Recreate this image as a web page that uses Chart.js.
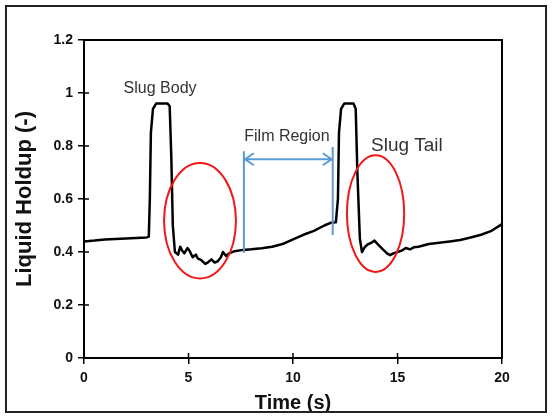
<!DOCTYPE html>
<html>
<head>
<meta charset="utf-8">
<script src="https://cdn.jsdelivr.net/npm/chart.js@4"></script>
<style>
  html, body { margin: 0; padding: 0; background: #fff; }
  canvas { display: block; }
</style>
</head>
<body>
<canvas id="holdupChart" width="553" height="416"></canvas>
<script>
// time (s) and liquid holdup (-)
const timeS = [0, 0.5, 1, 1.5, 2, 2.5, 3.0, 3.1, 3.15, 3.2, 3.3, 3.45, 4.0, 4.1, 4.18, 4.25, 4.35,
  4.5, 4.6, 4.7, 4.8, 4.95, 5.05, 5.2, 5.35, 5.45, 5.6, 5.8, 5.95, 6.1, 6.25, 6.4, 6.55, 6.65,
  6.8, 6.95, 7.2, 7.6, 8.0, 8.5, 9.0, 9.5, 10.0, 10.5, 11.0, 11.5, 11.8, 12.05, 12.15, 12.2,
  12.3, 12.45, 12.9, 13.0, 13.08, 13.2, 13.3, 13.45, 13.6, 13.75, 13.9, 14.05, 14.3, 14.5,
  14.65, 14.8, 15.0, 15.2, 15.4, 15.6, 15.8, 16.0, 16.5, 17.0, 17.5, 18.0, 18.5, 19.0, 19.5, 20.0];
const holdup = [0.44, 0.443, 0.447, 0.449, 0.451, 0.453, 0.455, 0.458, 0.6, 0.85, 0.94, 0.96, 0.96,
  0.95, 0.75, 0.5, 0.40, 0.39, 0.42, 0.405, 0.395, 0.415, 0.405, 0.38, 0.39, 0.375, 0.37, 0.355,
  0.362, 0.372, 0.36, 0.365, 0.38, 0.40, 0.385, 0.395, 0.403, 0.408, 0.41, 0.414, 0.42, 0.43,
  0.448, 0.465, 0.48, 0.5, 0.51, 0.512, 0.6, 0.85, 0.94, 0.96, 0.96, 0.94, 0.7, 0.45, 0.40, 0.42,
  0.43, 0.435, 0.443, 0.43, 0.41, 0.395, 0.388, 0.395, 0.40, 0.405, 0.415, 0.41, 0.418, 0.42,
  0.43, 0.435, 0.44, 0.445, 0.455, 0.465, 0.48, 0.505];

// annotations, in data units
const ellipses = [
  { t: 5.55, v: 0.518, rt: 1.72, rv: 0.218 },
  { t: 13.95, v: 0.545, rt: 1.37, rv: 0.22 }
];
const filmStart = 7.65, filmEnd = 11.9, filmArrowY = 0.75;
const filmLines = [[7.65, 0.78, 0.396], [11.9, 0.796, 0.464]];
const labels = [
  { text: 'Slug Body', t: 3.64, v: 1.015, size: 16 },
  { text: 'Film Region', t: 9.71, v: 0.834, size: 16 },
  { text: 'Slug Tail', t: 15.45, v: 0.80, size: 19 }
];

const points = timeS.map((t, i) => ({ x: t, y: holdup[i] }));

const decorations = {
  id: 'decorations',
  beforeDatasetsDraw(chart) {
    const { ctx, chartArea: a, scales: { x, y } } = chart;
    ctx.save();
    ctx.strokeStyle = '#000';
    ctx.lineWidth = 2;
    ctx.strokeRect(a.left, a.top, a.right - a.left, a.bottom - a.top);
    // inner half of the crossing ticks
    ctx.lineWidth = 1.5;
    ctx.beginPath();
    y.ticks.forEach(tk => {
      const py = y.getPixelForValue(tk.value);
      ctx.moveTo(a.left, py); ctx.lineTo(a.left + 5, py);
    });
    x.ticks.forEach(tk => {
      const px = x.getPixelForValue(tk.value);
      ctx.moveTo(px, a.bottom); ctx.lineTo(px, a.bottom - 5);
    });
    ctx.stroke();
    ctx.restore();
  },
  afterDatasetsDraw(chart) {
    const { ctx, scales: { x, y } } = chart;
    ctx.save();
    // red ellipses
    ctx.strokeStyle = '#f01818';
    ctx.lineWidth = 2;
    ellipses.forEach(e => {
      const cx = x.getPixelForValue(e.t), cy = y.getPixelForValue(e.v);
      const rx = x.getPixelForValue(e.t + e.rt) - cx;
      const ry = cy - y.getPixelForValue(e.v + e.rv);
      ctx.beginPath();
      ctx.ellipse(cx, cy, rx, ry, 0, 0, Math.PI * 2);
      ctx.stroke();
    });
    // blue film region marker
    ctx.strokeStyle = '#5b9bd5';
    ctx.lineWidth = 2;
    ctx.beginPath();
    filmLines.forEach(([t, v1, v2]) => {
      const px = x.getPixelForValue(t);
      ctx.moveTo(px, y.getPixelForValue(v1));
      ctx.lineTo(px, y.getPixelForValue(v2));
    });
    const x1 = x.getPixelForValue(filmStart), x2 = x.getPixelForValue(filmEnd);
    const ay = y.getPixelForValue(filmArrowY);
    ctx.moveTo(x1 + 1, ay); ctx.lineTo(x2 - 1, ay);
    ctx.moveTo(x1 + 10, ay - 6); ctx.lineTo(x1 + 1, ay); ctx.lineTo(x1 + 10, ay + 6);
    ctx.moveTo(x2 - 10, ay - 6); ctx.lineTo(x2 - 1, ay); ctx.lineTo(x2 - 10, ay + 6);
    ctx.stroke();
    // text labels
    ctx.fillStyle = '#333';
    ctx.textAlign = 'center';
    ctx.textBaseline = 'middle';
    labels.forEach(l => {
      ctx.font = l.size + 'px "Liberation Sans", Arial, sans-serif';
      ctx.fillText(l.text, x.getPixelForValue(l.t), y.getPixelForValue(l.v));
    });
    ctx.restore();
  },
  afterDraw(chart) {
    const { ctx } = chart;
    ctx.save();
    ctx.strokeStyle = '#222';
    ctx.lineWidth = 2;
    ctx.strokeRect(6, 6, 540, 406);
    ctx.restore();
  }
};

const tickFont = { family: '"Liberation Sans", Arial, sans-serif', size: 14, weight: 'bold' };

new Chart(document.getElementById('holdupChart'), {
  type: 'line',
  data: {
    datasets: [{
      data: points,
      borderColor: '#000',
      borderWidth: 2.5,
      pointRadius: 0,
      tension: 0,
      borderJoinStyle: 'round'
    }]
  },
  options: {
    responsive: false,
    animation: false,
    devicePixelRatio: 1,
    layout: { padding: { top: 40, right: 51, left: 0, bottom: 0 } },
    plugins: { legend: { display: false }, tooltip: { enabled: false } },
    scales: {
      x: {
        type: 'linear',
        min: 0, max: 20,
        afterFit(scale) { scale.height = 58; },
        ticks: { stepSize: 5, color: '#111', font: tickFont, padding: 6, maxRotation: 0 },
        grid: { drawOnChartArea: false, tickLength: 6, color: '#000', lineWidth: 1.5 },
        border: { color: '#000', width: 2 },
        title: {
          display: true, text: 'Time (s)', color: '#111',
          font: { family: '"Liberation Sans", Arial, sans-serif', size: 20, weight: 'bold' },
          padding: { top: 0, bottom: 1 }
        }
      },
      y: {
        min: 0, max: 1.2,
        afterFit(scale) { scale.width = 84; },
        ticks: {
          stepSize: 0.2, color: '#111', font: tickFont, padding: 5,
          callback: v => String(+v.toFixed(1))
        },
        grid: { drawOnChartArea: false, tickLength: 6, color: '#000', lineWidth: 1.5 },
        border: { color: '#000', width: 2 },
        title: {
          display: true, text: 'Liquid Holdup (-)', color: '#111',
          font: { family: '"Liberation Sans", Arial, sans-serif', size: 22, weight: 'bold' },
          padding: { top: 12, bottom: 0 }
        }
      }
    }
  },
  plugins: [decorations]
});
</script>
</body>
</html>
